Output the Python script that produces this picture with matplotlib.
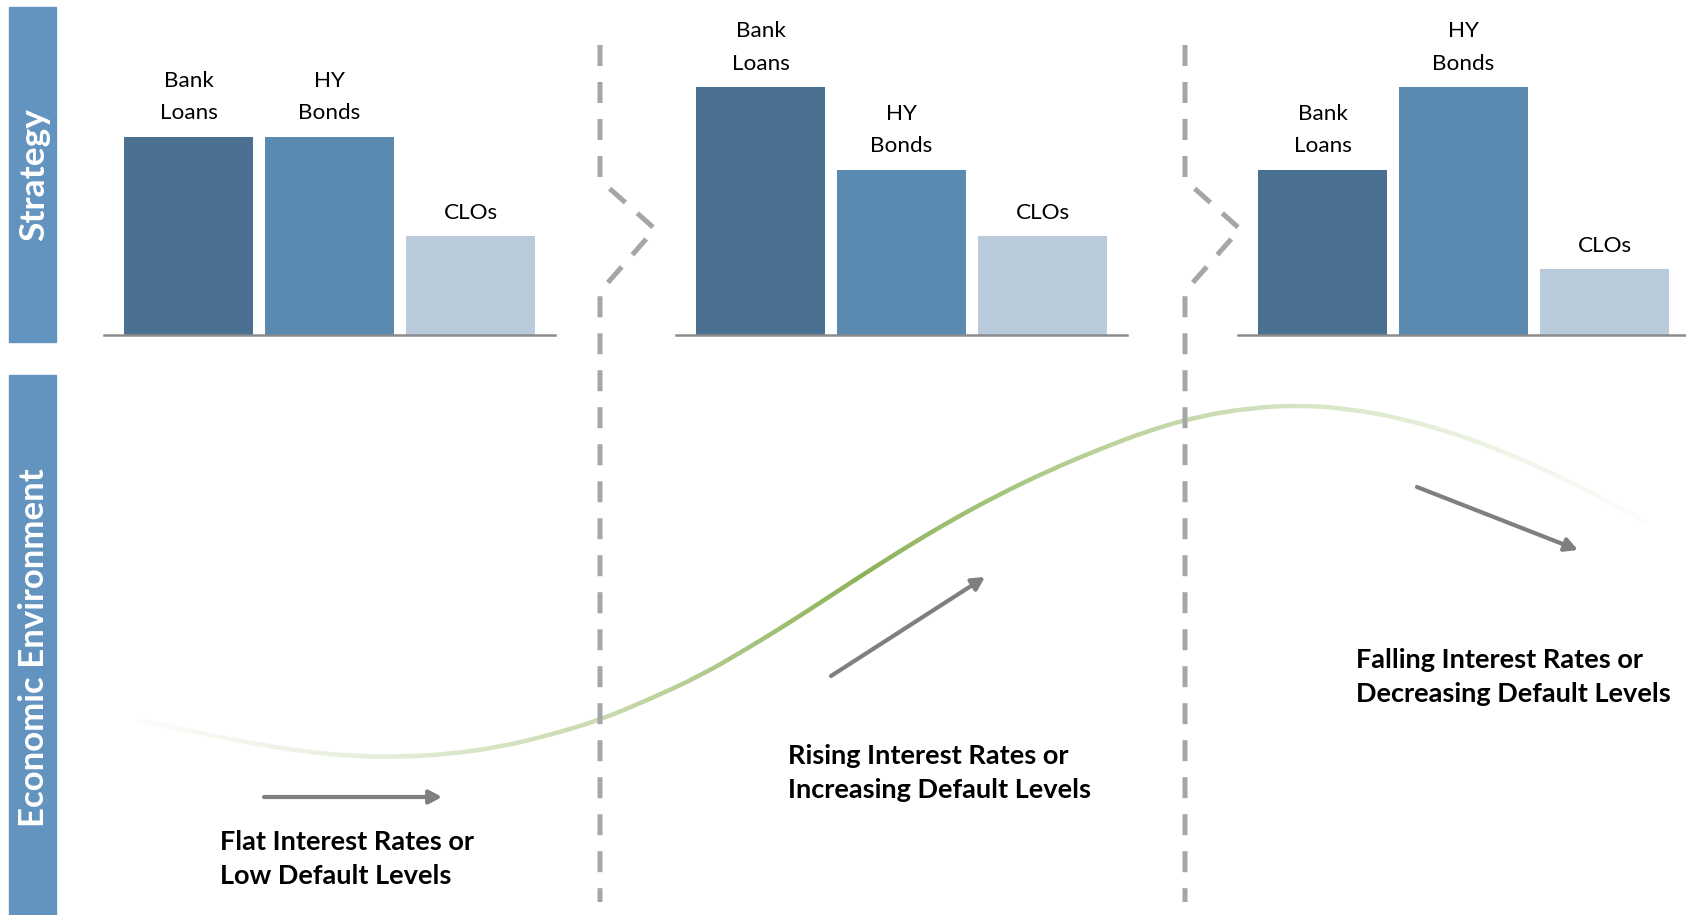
import numpy as np
import matplotlib
matplotlib.use("Agg")
import matplotlib.pyplot as plt
from matplotlib.patches import Rectangle, PathPatch
from matplotlib.path import Path
from matplotlib.transforms import Bbox, TransformedBbox

# ---------------- data ----------------
categories = ["Bank\nLoans", "HY\nBonds", "CLOs"]
flat_values = [60, 60, 30]
rising_values = [75, 50, 30]
falling_values = [50, 75, 20]
panel_values = [flat_values, rising_values, falling_values]

band_labels = ["Strategy", "Economic Environment"]
scenario_labels = ["Flat Interest Rates or\nLow Default Levels",
                   "Rising Interest Rates or\nIncreasing Default Levels",
                   "Falling Interest Rates or\nDecreasing Default Levels"]

# economic cycle curve (canvas pixel units)
cycle_x = [140, 200, 250, 300, 350, 400, 450, 500, 550, 600, 650, 700, 750, 800,
           850, 900, 950, 1000, 1050, 1100, 1150, 1200, 1250, 1300, 1350, 1400,
           1450, 1500, 1550, 1600, 1645]
cycle_y = [720, 733, 743, 751, 756, 757, 754, 747, 735, 720, 699, 676, 647, 616,
           583, 551, 521, 494, 470, 449, 430, 416, 408, 405, 409, 418, 432, 450,
           472, 497, 522]

# ---------------- style ----------------
W, H = 1686, 915
FONT = ["Lato", "DejaVu Sans"]
bar_colors = ["#4a7192", "#5a8ab0", "#b9cadb"]
band_color = "#6393bf"
dash_color = "#a6a6a6"
arrow_color = "#7f7f7f"
green = np.array([0x8c, 0xb2, 0x57]) / 255.0

fig = plt.figure(figsize=(W / 100, H / 100), dpi=100)
ax = fig.add_axes([0, 0, 1, 1])
ax.set_xlim(0, W)
ax.set_ylim(H, 0)
ax.axis("off")

# side bands
ax.add_patch(Rectangle((9, 7), 47, 335, color=band_color, zorder=1))
ax.add_patch(Rectangle((9, 375), 47, 545, color=band_color, zorder=1))
ax.text(34, 175, band_labels[0], rotation=90, ha="center", va="center",
        color="white", fontsize=25.5, fontweight="bold", family=FONT)
ax.text(34, 648, band_labels[1], rotation=90, ha="center", va="center",
        color="white", fontsize=25, fontweight="bold", family=FONT)

# cycle curve: smooth quadratic B-spline path through the read points,
# coloured in thin vertical strips so its ends fade out
pts = np.column_stack([cycle_x, cycle_y]).astype(float)
verts = [tuple(pts[0]), tuple((pts[0] + pts[1]) / 2)]
codes = [Path.MOVETO, Path.LINETO]
for i in range(1, len(pts) - 1):
    verts += [tuple(pts[i]), tuple((pts[i] + pts[i + 1]) / 2)]
    codes += [Path.CURVE3, Path.CURVE3]
verts.append(tuple(pts[-1]))
codes.append(Path.LINETO)
curve_path = Path(verts, codes)

fade_x = [130, 400, 620, 860, 1100, 1300, 1500, 1650]
fade_s = [0.02, 0.25, 0.5, 1.0, 0.6, 0.35, 0.15, 0.02]
step = 5
for s in range(125, 1660, step):
    strength = np.interp(s + step / 2, fade_x, fade_s)
    col = tuple(1 - strength * (1 - green))
    pp = PathPatch(curve_path, fill=False, edgecolor=col, lw=3.2,
                   capstyle="round", joinstyle="round", zorder=2)
    ax.add_patch(pp)
    pp.set_clip_box(TransformedBbox(Bbox([[s, 0], [s + step, H]]), ax.transData))

# dashed dividers with chevrons
lw_d = 3.6
for x0 in [600, 1185]:
    dv = [(x0, 45), (x0, 180), (x0 + 55, 229), (x0 + 4, 287), (x0, 296), (x0, 902)]
    ax.add_patch(PathPatch(Path(dv), fill=False, edgecolor=dash_color, lw=lw_d,
                           linestyle=(0, (21 / 1.389 / lw_d, 16 / 1.389 / lw_d)),
                           capstyle="butt", zorder=3))

# arrows
arrows = [((264, 797), (442, 797)), ((831, 676), (985, 577)), ((1417, 487), (1578, 550))]
for (x1, y1), (x2, y2) in arrows:
    ax.annotate("", xy=(x2, y2), xytext=(x1, y1),
                arrowprops=dict(arrowstyle="-|>,head_length=0.75,head_width=0.4",
                                color=arrow_color, lw=3, shrinkA=0, shrinkB=0),
                zorder=4)

# scenario texts
text_pos = [(220, 859), (788, 773), (1356, 677)]
for (tx, ty), s in zip(text_pos, scenario_labels):
    ax.text(tx, ty, s, ha="left", va="center", fontsize=19.5, fontweight="bold",
            family=FONT, color="black", linespacing=1.55)

# bar panels
px_per_unit = 3.307
baseline = 335
slot = 141
panel_first_centers = [188.5, 760.5, 1322.5]
for c0, vals in zip(panel_first_centers, panel_values):
    left = c0 - 0.6 * slot
    width = 3.2 * slot if c0 < 1300 else (W - left)
    bax = fig.add_axes([left / W, (H - baseline) / H, width / W, baseline / H])
    bax.patch.set_alpha(0)
    xs = np.arange(len(vals))
    bax.bar(xs, vals, width=129 / slot, color=bar_colors, zorder=2)
    bax.set_xlim(-0.6, -0.6 + width / slot)
    bax.set_ylim(0, baseline / px_per_unit)
    bax.axhline(0, color="#8c8c8c", lw=1.8, zorder=3, clip_on=False)
    for x, v, lab in zip(xs, vals, categories):
        bax.annotate(lab, (x, v), xytext=(0, 9.5), textcoords="offset points",
                     ha="center", va="bottom", fontsize=16.2, family=FONT,
                     linespacing=1.78)
    bax.axis("off")

fig.savefig("out.png", dpi=100)
